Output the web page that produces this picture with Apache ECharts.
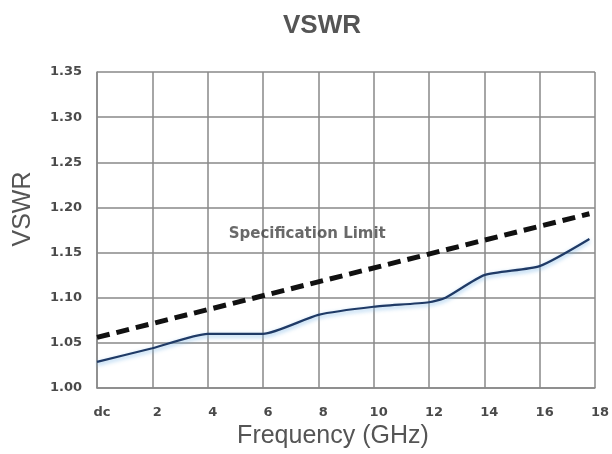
<!DOCTYPE html>
<html>
<head>
<meta charset="utf-8">
<script src="https://cdn.jsdelivr.net/npm/echarts@6/dist/echarts.min.js"></script>
<style>html,body{margin:0;padding:0;background:#fff}#c{width:612px;height:454px}</style>
</head>
<body>
<div id="c"></div>
<script>
var title = 'VSWR';
var xName = 'Frequency (GHz)';
var yName = 'VSWR';
var xTickLabels = {0:'dc',2:'2',4:'4',6:'6',8:'8',10:'10',12:'12',14:'14',16:'16',18:'18'};
var measuredFreq = [0, 2, 4, 6, 8, 10, 12, 12.6, 14, 16, 17.8];
var measuredVswr = [1.029, 1.044, 1.060, 1.060, 1.081, 1.090, 1.095, 1.100, 1.125, 1.135, 1.165];
var specFreq = [0, 17.8];
var specVswr = [1.056, 1.193];
var specLabel = 'Specification Limit';
var specLabelPos = [7.6, 1.171];

function pairs(xs, ys){ return xs.map(function(x,i){return [x, ys[i]];}); }

var tickFont = {fontFamily: 'DejaVu Sans', fontSize: 13, fontWeight: 'bold', color: '#4a4a4a'};
var chart = echarts.init(document.getElementById('c'));
chart.setOption({
  backgroundColor: '#fff',
  animation: false,
  title: {text: title, left: 278, top: 8,
    textStyle: {fontFamily: 'Liberation Sans, Arial', fontSize: 26, fontWeight: 'bold', color: '#555'}},
  grid: {left: 97, right: 12, top: 72, bottom: 66},
  xAxis: {
    type: 'value', min: 0, max: 18, interval: 2,
    name: xName, nameLocation: 'middle', nameGap: 36,
    nameTextStyle: {fontFamily: 'Liberation Sans, Arial', fontSize: 25, color: '#555', padding: [0, 26, 0, 0]},
    axisLine: {lineStyle: {color: '#888', width: 1.5}},
    axisTick: {show: false},
    axisLabel: Object.assign({margin: 18, padding: [0, 0, 0, 10],
      formatter: function(v){ return xTickLabels[v] !== undefined ? xTickLabels[v] : ''; }}, tickFont),
    splitLine: {show: true, lineStyle: {color: '#888', width: 1.5}}
  },
  yAxis: {
    type: 'value', min: 1.00, max: 1.35, interval: 0.05,
    name: yName, nameLocation: 'middle', nameGap: 61, nameRotate: 90,
    nameTextStyle: {fontFamily: 'Liberation Sans, Arial', fontSize: 25, color: '#555', padding: [0, 0, 0, 42]},
    axisLine: {show: true, lineStyle: {color: '#888', width: 1.5}},
    axisTick: {show: false},
    axisLabel: Object.assign({margin: 15,
      formatter: function(v){ return v.toFixed(2); }}, tickFont),
    splitLine: {show: true, lineStyle: {color: '#888', width: 1.5}}
  },
  series: [
    {type: 'line', data: pairs(measuredFreq, measuredVswr), symbol: 'none', smooth: 0.2,
      lineStyle: {color: '#1f3a66', width: 2.2, shadowColor: 'rgba(120,180,230,0.8)', shadowBlur: 4, shadowOffsetY: 2}, z: 3},
    {type: 'line', data: pairs(specFreq, specVswr), symbol: 'none',
      lineStyle: {color: '#111', width: 5, type: [13, 7]}, z: 4},
    {type: 'scatter', data: [specLabelPos], symbolSize: 0,
      label: {show: true, position: 'inside', formatter: specLabel,
        fontFamily: 'DejaVu Sans', fontSize: 15, fontWeight: 'bold', color: '#444'}, z: 5}
  ]
});
</script>
</body>
</html>
